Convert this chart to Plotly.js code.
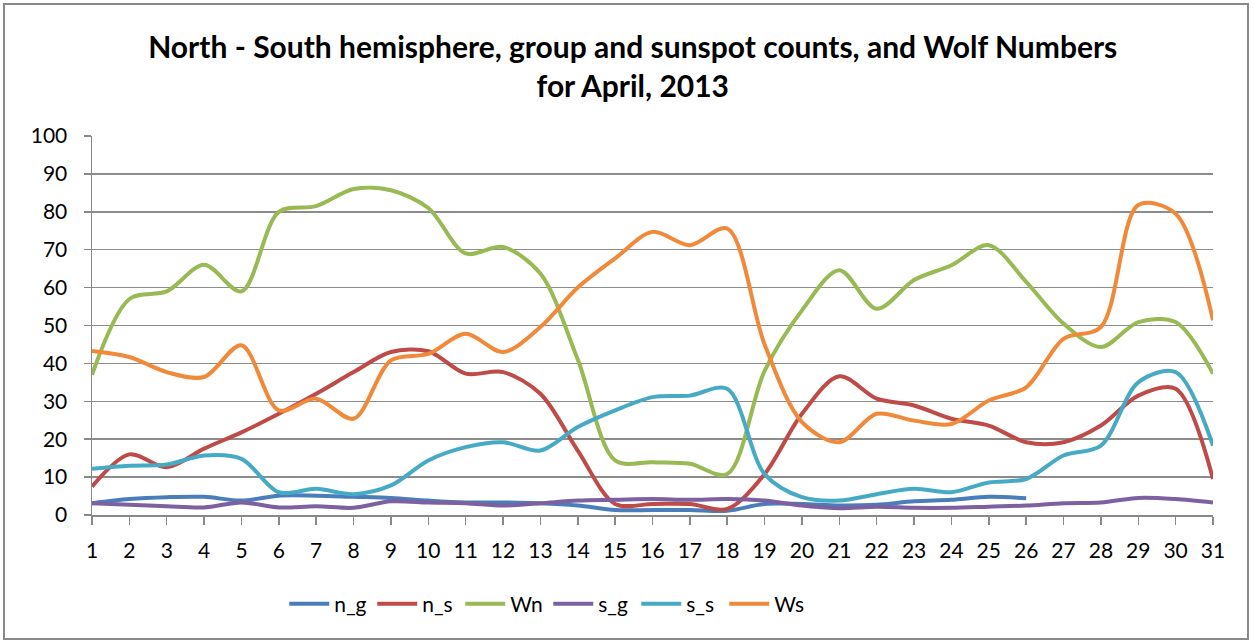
<!DOCTYPE html>
<html>
<head>
<meta charset="utf-8">
<script src="https://cdn.plot.ly/plotly-3.0.1.min.js"></script>
<style>
html,body{margin:0;padding:0;background:#fff;}
#chart{width:1253px;height:641px;}
</style>
</head>
<body>
<div id="chart"></div>
<script>
var days = [1,2,3,4,5,6,7,8,9,10,11,12,13,14,15,16,17,18,19,20,21,22,23,24,25,26,27,28,29,30,31];
var n_g = [3.1,4.2,4.7,4.8,3.8,5.1,5.1,4.8,4.5,3.8,3.3,3.3,3.1,2.5,1.3,1.3,1.3,1.1,2.9,2.9,2.5,2.7,3.6,4.0,4.8,4.4,null,null,null,null,null];
var n_s = [7.5,16,12.6,17.5,21.8,26.7,32,37.7,43,43.2,37.3,37.7,32,17,2.9,2.9,2.9,1.6,10.8,26.7,36.6,30.7,28.9,25.4,23.6,19.2,19.2,23.6,31.5,33.3,9.5];
var Wn = [37,57,59,66,59,80,81.5,86,85.7,81,69,70.7,63.7,41,14.4,13.9,13.5,10.8,38,54,64.6,54.4,62,65.9,71.2,61.5,50.5,44.3,50.9,50.9,37.3];
var s_g = [3.1,2.7,2.3,2.0,3.3,2.0,2.3,1.9,3.6,3.3,3.1,2.5,3.1,3.8,4.0,4.2,4.0,4.2,3.8,2.5,1.8,2.2,1.9,1.9,2.2,2.5,3.1,3.3,4.5,4.2,3.3];
var s_s = [12.2,13,13.3,15.7,14.8,6,6.9,5.5,7.8,14.4,17.9,19.2,17,23.2,27.6,31.1,31.5,33.3,10.8,4.7,3.8,5.5,6.9,6,8.6,9.5,15.7,18.3,35,37.7,18.3];
var Ws = [43.3,41.7,37.7,36.4,44.8,27.6,30.7,25.4,40.8,42.5,47.8,43,49.6,60,67.7,74.7,71.2,75.6,45,24.5,19.2,26.7,24.9,24,30.2,33.7,46.5,49.6,81.8,79.5,51.4];
var yTicks = [0,10,20,30,40,50,60,70,80,90,100];

var seriesNames = ['n_g','n_s','Wn','s_g','s_s','Ws'];
var seriesData = [n_g,n_s,Wn,s_g,s_s,Ws];
var colors = ['#4A7EBB','#BE4B48','#98B954','#7D60A0','#46AAC5','#F08A3A'];

var traces = seriesNames.map(function(name,i){
  return {
    x: days, y: seriesData[i], name: name, type: 'scatter', mode: 'lines',
    line: {color: colors[i], width: 4, shape: 'spline', smoothing: 0.9},
    connectgaps: false, hoverinfo: 'x+y+name'
  };
});

var font = 'Lato, "Open Sans", sans-serif';
var layout = {
  width: 1253, height: 641,
  margin: {l: 92, r: 40, t: 136, b: 126},
  paper_bgcolor: '#fff', plot_bgcolor: '#fff',
  font: {family: font, color: '#000', size: 21},
  title: {
    text: '<b>North - South hemisphere, group and sunspot counts, and Wolf Numbers<br>for April, 2013</b>',
    x: 0.505, xanchor: 'center', y: 0.91, yanchor: 'middle',
    font: {family: font, size: 30, color: '#000'}
  },
  xaxis: {
    range: [1, 31], tickvals: days, ticktext: days.map(String),
    showgrid: false, zeroline: false, showline: true, linecolor: '#888', linewidth: 1.5,
    ticks: 'outside', ticklen: 8, tickcolor: '#888', tickwidth: 1.5,
    ticklabelstandoff: 8,
    tickfont: {family: font, size: 21}, fixedrange: true
  },
  yaxis: {
    range: [0, 100], tickvals: yTicks, ticktext: yTicks.map(String),
    showgrid: true, gridcolor: '#8c8c8c', gridwidth: 1.5, zeroline: false,
    showline: true, linecolor: '#888', linewidth: 1.5,
    ticks: 'outside', ticklen: 7, tickcolor: '#888', tickwidth: 1.5,
    ticklabelstandoff: 12,
    tickfont: {family: font, size: 21}, fixedrange: true
  },
  legend: {
    orientation: 'h', x: 0.407, xanchor: 'center', y: -0.235, yanchor: 'middle',
    font: {family: font, size: 21}, itemwidth: 40, tracegroupgap: 0,
    entrywidth: 33, entrywidthmode: 'pixels'
  },
  shapes: [{
    type: 'rect', xref: 'paper', yref: 'paper',
    x0: (4-92)/1121, x1: (1248-92)/1121, y0: (515-639)/379, y1: (515-4)/379,
    line: {color: '#888', width: 2}, fillcolor: 'rgba(0,0,0,0)', layer: 'below'
  }]
};

Plotly.newPlot('chart', traces, layout, {displayModeBar: false, staticPlot: true});
</script>
</body>
</html>
